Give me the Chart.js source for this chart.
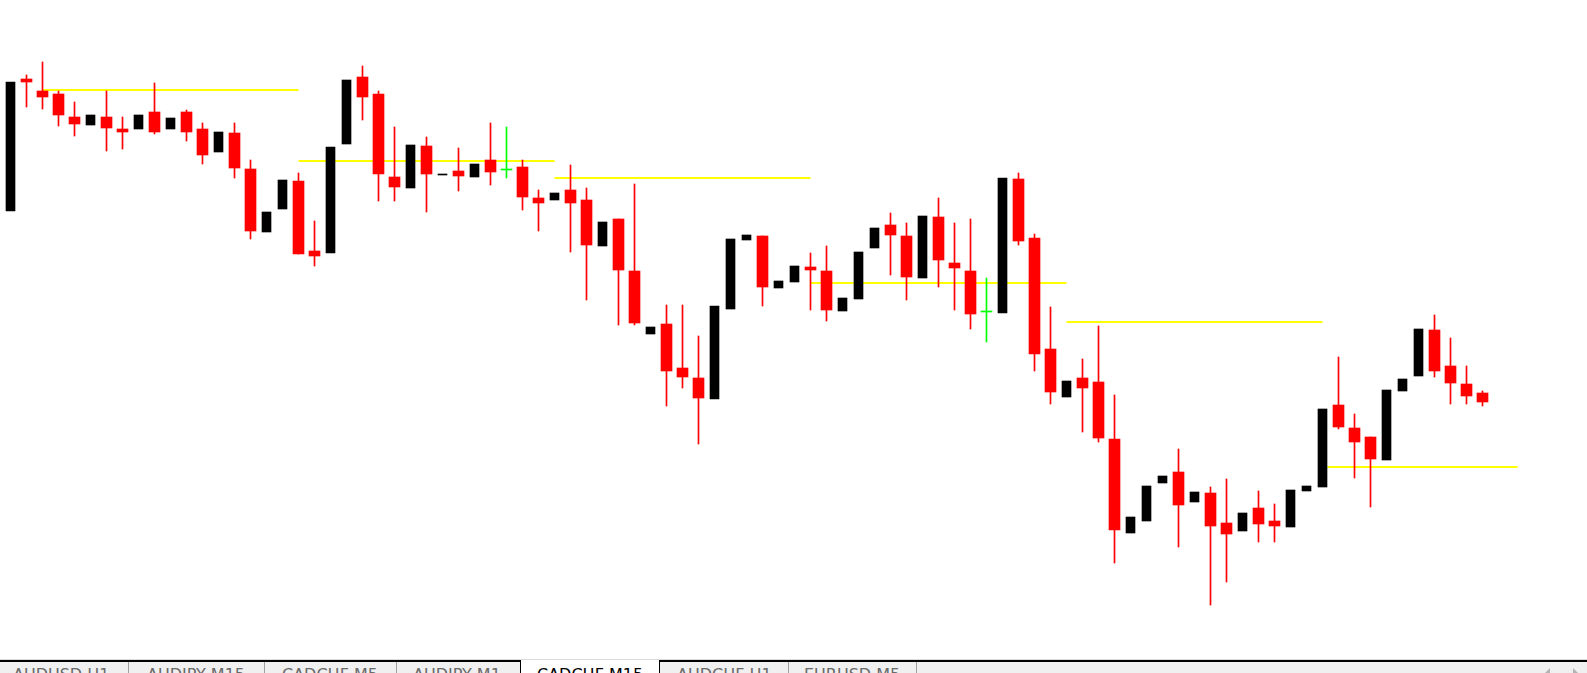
<!DOCTYPE html>
<html>
<head>
<meta charset="utf-8">
<title>CADCHF,M15</title>
<script src="https://cdn.jsdelivr.net/npm/chart.js@4.4.1/dist/chart.umd.min.js"></script>
<style>
  html, body { margin: 0; padding: 0; background: #fff; overflow: hidden; }
  #wrap { position: relative; width: 1587px; height: 673px; overflow: hidden; }
  #chart { position: absolute; left: 0; top: 0; }
  .greyLine { position: absolute; left: 0; top: 659px; width: 1587px; height: 1px; background: #dcdcdc; }
  .strip { position: absolute; left: 0; top: 660px; width: 1587px; height: 13px; background: #f0f0f0; border-top: 2px solid #000; box-sizing: border-box; }
  .tab { position: absolute; top: 662px; height: 11px; border-right: 1px solid #a0a0a0; box-sizing: border-box; }
  .tab.active { top: 660px; height: 13px; background: #fff; border-left: 1px solid #000; border-right: 1px solid #000; }
  .tab span { position: absolute; top: 5px; font: 16px/16px "DejaVu Sans", sans-serif; color: #6a6a6a; white-space: nowrap; }
  .tab.active span { top: 7px; color: #000; }
  .arrow { position: absolute; top: 668px; width: 0; height: 0; border-top: 5px solid transparent; border-bottom: 5px solid transparent; }
  .arrow.left { left: 1545px; border-right: 5px solid #b4b4b4; }
  .arrow.right { left: 1573px; border-left: 5px solid #b4b4b4; }
</style>
</head>
<body>
<div id="wrap">
  <canvas id="chart" width="1587" height="659"></canvas>
  <div class="greyLine"></div>
  <div class="strip"></div>
  <div id="tabs"></div>
  <div class="arrow left"></div>
  <div class="arrow right"></div>
</div>
<script>
// CADCHF M15 prices, in points (price = points / 100000)
const opens = [
  65789, 65921, 65909, 65906, 65883, 65875, 65883, 65871, 65871, 65888,
  65871, 65888, 65871, 65848, 65867, 65831, 65768, 65791, 65819, 65749,
  65747, 65856, 65923, 65906, 65823, 65812, 65854, 65825, 65829, 65823,
  65840, 65831, 65833, 65802, 65800, 65810, 65800, 65754, 65781, 65729,
  65666, 65676, 65632, 65622, 65601, 65691, 65760, 65764, 65712, 65718,
  65733, 65729, 65689, 65701, 65752, 65775, 65764, 65722, 65783, 65737,
  65729, 65689, 65687, 65821, 65762, 65651, 65603, 65622, 65618, 65561,
  65467, 65479, 65517, 65528, 65498, 65507, 65477, 65469, 65492, 65479,
  65473, 65509, 65513, 65595, 65572, 65563, 65540, 65609, 65624, 65670,
  65634, 65616, 65607
];
const highs = [
  65918, 65925, 65938, 65909, 65898, 65885, 65909, 65883, 65885, 65917,
  65882, 65890, 65877, 65868, 65877, 65840, 65788, 65820, 65827, 65779,
  65853, 65920, 65934, 65909, 65873, 65855, 65863, 65826, 65852, 65836,
  65877, 65873, 65840, 65810, 65807, 65835, 65812, 65778, 65781, 65816,
  65673, 65695, 65695, 65664, 65694, 65761, 65765, 65764, 65719, 65734,
  65747, 65754, 65702, 65748, 65772, 65787, 65777, 65784, 65802, 65777,
  65781, 65722, 65822, 65827, 65766, 65693, 65619, 65641, 65674, 65605,
  65483, 65514, 65524, 65551, 65508, 65513, 65521, 65487, 65509, 65496,
  65510, 65514, 65591, 65643, 65586, 65563, 65610, 65621, 65671, 65685,
  65662, 65634, 65609
];
const lows = [
  65789, 65893, 65891, 65874, 65864, 65875, 65849, 65851, 65871, 65866,
  65871, 65859, 65836, 65848, 65822, 65761, 65768, 65791, 65746, 65734,
  65747, 65856, 65880, 65799, 65799, 65812, 65788, 65825, 65809, 65823,
  65815, 65822, 65790, 65769, 65800, 65748, 65700, 65754, 65675, 65675,
  65666, 65594, 65612, 65556, 65601, 65691, 65760, 65694, 65712, 65718,
  65690, 65679, 65689, 65701, 65752, 65725, 65700, 65722, 65713, 65690,
  65671, 65658, 65687, 65755, 65629, 65596, 65603, 65568, 65558, 65437,
  65467, 65479, 65517, 65453, 65498, 65395, 65418, 65469, 65458, 65458,
  65473, 65509, 65513, 65571, 65522, 65493, 65540, 65609, 65624, 65623,
  65596, 65596, 65594
];
const closes = [
  65918, 65918, 65903, 65885, 65876, 65885, 65872, 65868, 65885, 65868,
  65882, 65868, 65845, 65868, 65832, 65769, 65788, 65820, 65746, 65744,
  65853, 65920, 65903, 65826, 65813, 65855, 65826, 65826, 65824, 65836,
  65828, 65831, 65803, 65797, 65807, 65797, 65755, 65778, 65730, 65677,
  65673, 65629, 65623, 65602, 65694, 65761, 65765, 65713, 65719, 65734,
  65730, 65690, 65702, 65748, 65772, 65765, 65723, 65784, 65740, 65732,
  65686, 65689, 65822, 65759, 65646, 65608, 65619, 65612, 65562, 65470,
  65483, 65514, 65524, 65495, 65508, 65474, 65466, 65487, 65476, 65474,
  65510, 65514, 65591, 65573, 65558, 65541, 65610, 65621, 65671, 65629,
  65617, 65604, 65598
];

// yellow levels (bar index from / to, price in points)
const levelFrom = [2, 18, 34, 50, 66, 82.3];
const levelTo = [18, 34, 50, 66, 82, 94.2];
const levelPrice = [65910, 65839, 65822, 65717, 65678, 65533];

// window tabs
const tabNames = ["AUDUSD,H1", "AUDJPY,M15", "CADCHF,M5", "AUDJPY,M1", "CADCHF,M15", "AUDCHF,H1", "EURUSD,M5"];
const activeTab = "CADCHF,M15";

const RED = "#ff0000";
const BLACK = "#000000";
const GREEN = "#00ff00";
const YELLOW = "#ffff00";

function kindOf(i) {
  if (closes[i] > opens[i]) return "bull";
  if (closes[i] < opens[i]) return "bear";
  return "doji";
}

function bodyData(kind) {
  const out = [];
  opens.forEach((o, i) => {
    if (kindOf(i) !== kind) return;
    const c = closes[i];
    out.push({ x: i, y: o === c ? [o - 1, o] : [Math.min(o, c), Math.max(o, c)] });
  });
  return out;
}

function wickData() {
  const out = [];
  highs.forEach((h, i) => {
    if (kindOf(i) === "bull") return; // bull candle wicks are not shown
    out.push({ x: i, y: [lows[i], h] });
  });
  return out;
}

function levelDatasets() {
  return levelPrice.map((p, i) => ({
    type: "line",
    data: [{ x: levelFrom[i], y: p }, { x: levelTo[i], y: p }],
    borderColor: YELLOW,
    borderWidth: 2,
    pointRadius: 0,
    fill: false,
    order: 5
  }));
}

function buildChart() {
  const wicks = wickData();
  const config = {
    type: "bar",
    data: {
      datasets: [
        {
          data: wicks,
          backgroundColor: wicks.map(w => kindOf(w.x) === "doji" ? GREEN : RED),
          barThickness: 1,
          grouped: false,
          order: 3
        },
        { data: bodyData("bear"), backgroundColor: RED, barThickness: 11, grouped: false, order: 1 },
        { data: bodyData("bull"), backgroundColor: BLACK, barThickness: 9, grouped: false, order: 1 },
        { data: bodyData("doji"), backgroundColor: GREEN, barThickness: 11, grouped: false, order: 1 },
        ...levelDatasets()
      ]
    },
    options: {
      responsive: false,
      animation: false,
      devicePixelRatio: 1,
      layout: { padding: 0 },
      plugins: { legend: { display: false }, tooltip: { enabled: false } },
      scales: {
        x: { type: "linear", display: false, offset: false, min: -0.65625, max: 98.53125 },
        y: { type: "linear", display: false, beginAtZero: false, min: 65341, max: 66000 }
      }
    }
  };
  return new Chart(document.getElementById("chart"), config);
}

function buildTabs() {
  const lefts = [0, 128, 264, 396, 520, 659, 788];
  const rights = [128, 264, 396, 520, 659, 788, 916];
  const textX = [13, 19, 18, 17, 16, 18, 16];
  const holder = document.getElementById("tabs");
  tabNames.forEach((name, i) => {
    const tab = document.createElement("div");
    tab.className = name === activeTab ? "tab active" : "tab";
    tab.style.left = lefts[i] + "px";
    tab.style.width = (rights[i] - lefts[i] + 1) + "px";
    const label = document.createElement("span");
    label.style.left = textX[i] + "px";
    label.textContent = name;
    tab.appendChild(label);
    holder.appendChild(tab);
  });
}

buildChart();
buildTabs();
</script>
</body>
</html>
